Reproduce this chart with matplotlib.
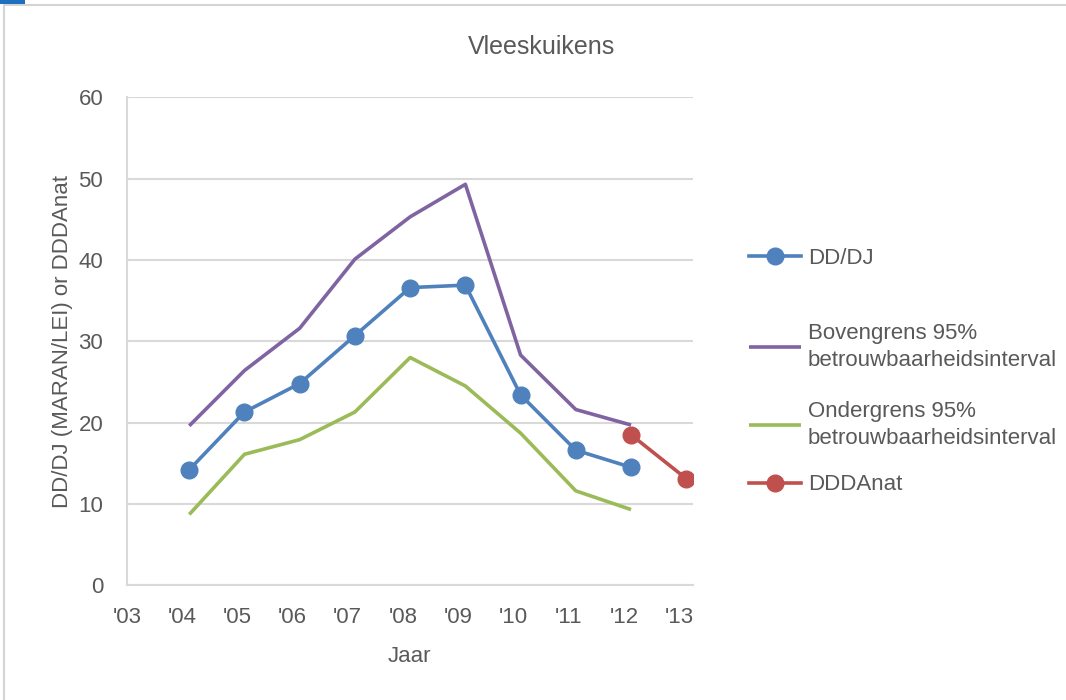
import matplotlib.pyplot as plt
from matplotlib.lines import Line2D
from matplotlib.patches import Rectangle

plt.rcParams['font.family'] = ['Liberation Sans', 'DejaVu Sans']

# data
years = [2004, 2005, 2006, 2007, 2008, 2009, 2010, 2011, 2012]
dddj = [14.2, 21.3, 24.8, 30.7, 36.6, 36.9, 23.4, 16.6, 14.5]
boven = [19.6, 26.4, 31.6, 40.1, 45.3, 49.3, 28.3, 21.6, 19.7]
onder = [8.7, 16.1, 17.9, 21.3, 28.0, 24.5, 18.7, 11.6, 9.3]
anat_years = [2012, 2013]
anat = [18.5, 13.1]
tick_years = list(range(2003, 2014))
tick_labels = ["'" + str(y)[2:] for y in tick_years]

c_blue = '#4F81BD'
c_purple = '#8064A2'
c_green = '#9BBB59'
c_red = '#C0504D'
c_text = '#595959'
c_grid = '#D9D9D9'

off = 0.13  # points sit a bit after the year label (date axis)

fig = plt.figure(figsize=(10.66, 7), dpi=100)
ax = fig.add_axes([0.119, 0.164, 0.531, 0.697])

l_boven, = ax.plot([y + off for y in years], boven, color=c_purple, lw=2.6, solid_capstyle='butt')
l_onder, = ax.plot([y + off for y in years], onder, color=c_green, lw=2.6, solid_capstyle='butt')
l_dddj, = ax.plot([y + off for y in years], dddj, color=c_blue, lw=2.6, marker='o', ms=12)
l_anat, = ax.plot([y + off for y in anat_years], anat, color=c_red, lw=2.6, marker='o', ms=12)

ax.set_xlim(2003, 2013.25)
ax.set_ylim(0, 60)
ax.set_xticks(tick_years)
ax.set_xticklabels(tick_labels)
ax.set_yticks(range(0, 61, 10))
ax.tick_params(length=0, labelsize=16, colors=c_text)
ax.tick_params(axis='x', pad=16)
ax.tick_params(axis='y', pad=17)
ax.grid(axis='y', color=c_grid, lw=1.5)
ax.set_axisbelow(True)
for s in ['top', 'right']:
    ax.spines[s].set_visible(False)
ax.spines['left'].set_color(c_grid)
ax.spines['bottom'].set_color(c_grid)
ax.spines['left'].set_linewidth(1.5)
ax.spines['bottom'].set_linewidth(1.5)

fig.suptitle('Vleeskuikens', fontsize=18, color=c_text, x=0.508, y=0.95)
ax.set_xlabel('Jaar', fontsize=16, color=c_text, labelpad=13)
ax.set_ylabel('DD/DJ (MARAN/LEI) or DDDAnat', fontsize=16, color=c_text, labelpad=4)

# legend entries, spaced like the original
entries = [
    (l_dddj, 'DD/DJ', 258),
    (l_boven, 'Bovengrens 95%\nbetrouwbaarheidsinterval', 347),
    (l_onder, 'Ondergrens 95%\nbetrouwbaarheidsinterval', 425),
    (l_anat, 'DDDAnat', 485),
]
for h, lab, ypx in entries:
    leg = fig.legend([h], [lab], loc='center left', bbox_to_anchor=(0.684, 1 - ypx / 700),
                     frameon=False, fontsize=16, handlelength=2.35, handletextpad=0.3)
    for t in leg.get_texts():
        t.set_color(c_text)
        t.set_linespacing(1.35)

# outer chart frame
fig.add_artist(Rectangle((0.004, -0.01), 1.0, 1.003, transform=fig.transFigure,
                         fill=False, edgecolor='#D4D4D4', lw=1.5))
fig.add_artist(Rectangle((0, 0.995), 0.023, 0.005, transform=fig.transFigure,
                         color='#1F6FC0', lw=0))

fig.savefig('out.png', dpi=100)
